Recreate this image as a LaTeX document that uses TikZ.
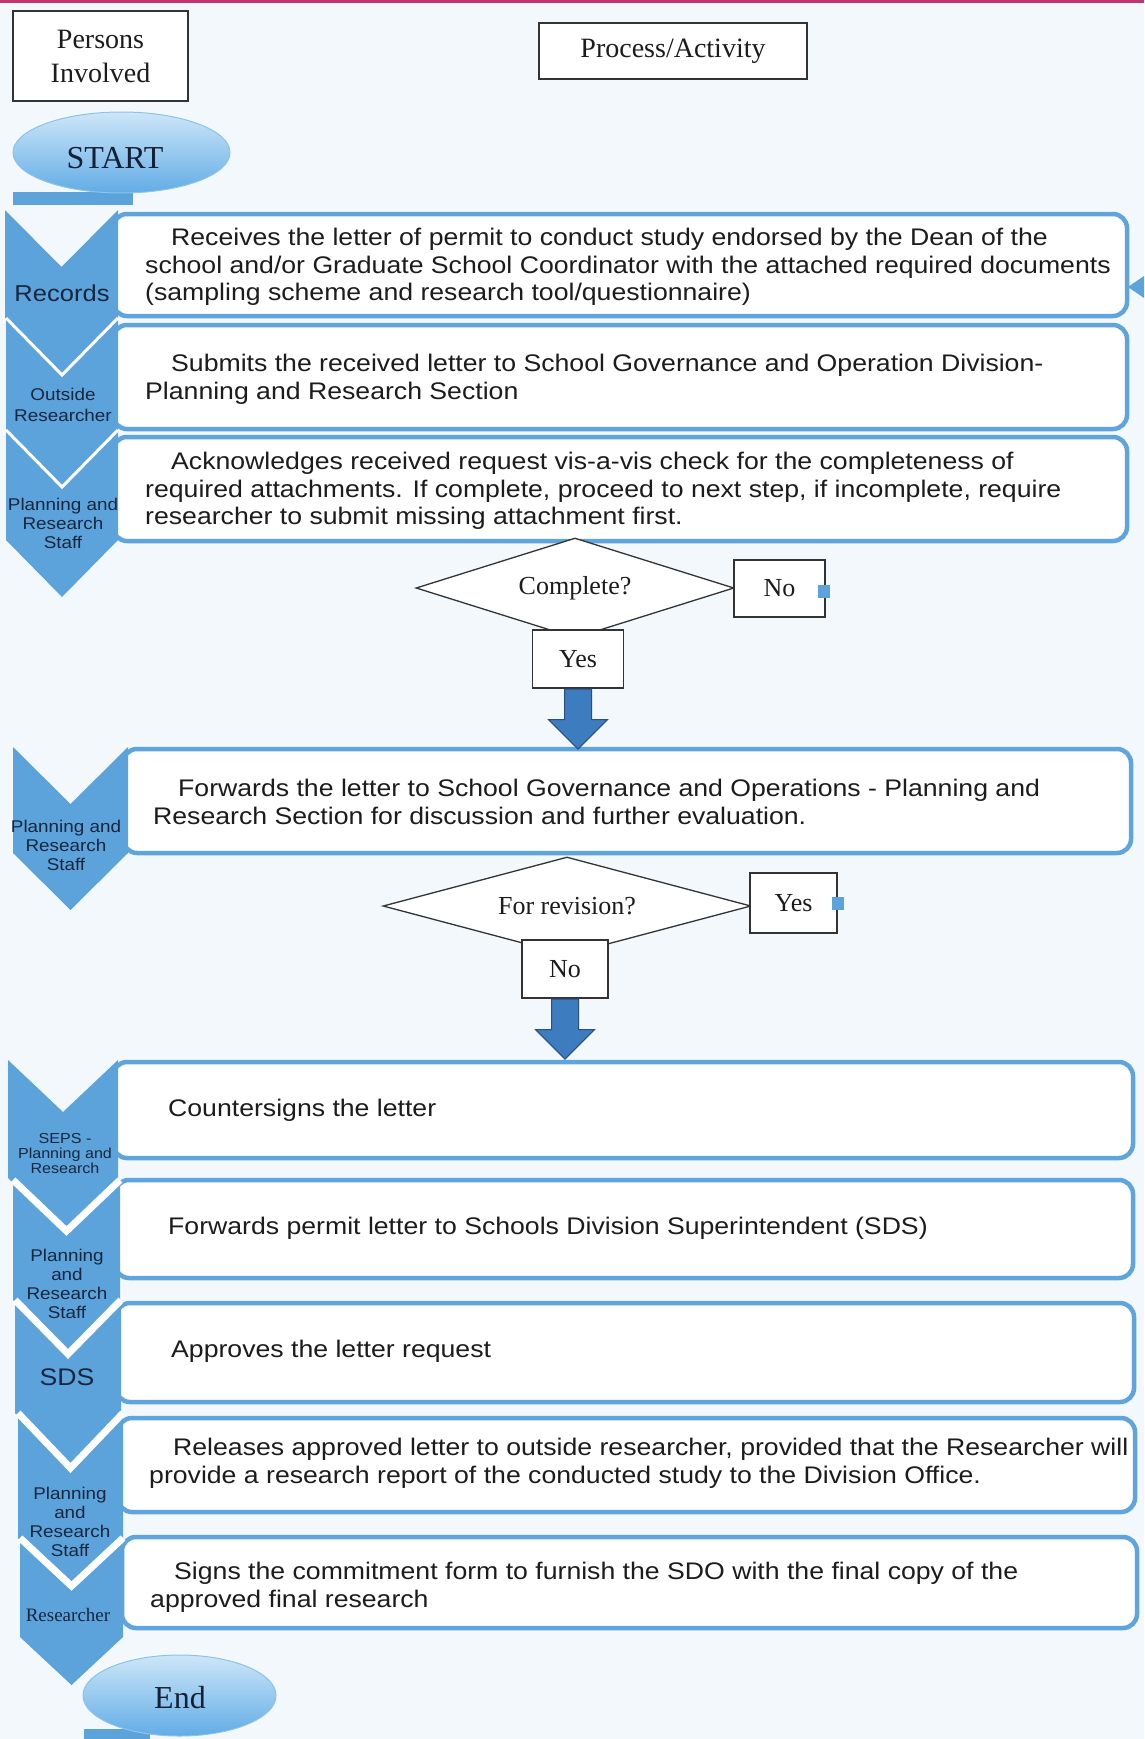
\documentclass[tikz,border=0pt]{standalone}
\usepackage{fontspec}
\setmainfont{Liberation Serif}
\newfontfamily\sansx[FakeStretch=1.11]{Liberation Sans}
\usetikzlibrary{shapes.geometric,shapes.arrows}
\definecolor{bg}{RGB}{243,248,252}
\definecolor{chev}{RGB}{92,163,220}
\definecolor{boxline}{RGB}{96,164,222}
\definecolor{pinkbar}{RGB}{196,52,112}
\definecolor{navy}{RGB}{24,38,62}
\definecolor{txt}{RGB}{28,28,28}
\definecolor{arrfill}{RGB}{62,124,192}
\definecolor{arrline}{RGB}{40,80,130}
\definecolor{termtop}{RGB}{205,230,248}
\definecolor{termbot}{RGB}{98,172,230}
\definecolor{termline}{RGB}{140,195,235}
\newcommand{\chevshape}[5]{%
  \fill[chev] (#1,#3) -- ({(#1+#2)/2},{#3+#5}) -- (#2,#3) -- (#2,#4) -- ({(#1+#2)/2},{#4+#5}) -- (#1,#4) -- cycle;}
\newcommand{\chevnotch}[6]{%
  \draw[white, line width=#6pt, line join=miter] (#1,#3) -- ({(#1+#2)/2},{#3+#5}) -- (#2,#3);}
\begin{document}
\begin{tikzpicture}[x=1pt,y=-1pt,
  procbox/.style={draw=boxline, line width=4.5pt, rounded corners=14pt, fill=white, anchor=north west, inner sep=0pt, outer sep=0pt},
  ptext/.style={font=\sansx\fontsize{24}{27.7}\selectfont, text=txt, align=left, anchor=west, inner sep=0pt},
  ctext/.style={text=navy, align=center, inner sep=0pt},
  hdrbox/.style={draw=black!80, line width=1.3pt, fill=white, inner sep=0pt, font=\fontsize{28}{34}\selectfont, text=txt, align=center},
  decision/.style={diamond, aspect=3.2, draw=black!80, line width=1.3pt, fill=white, inner sep=0pt, font=\fontsize{26}{30}\selectfont, text=txt},
  ansbox/.style={draw=black!80, line width=1.3pt, fill=white, inner sep=0pt, font=\fontsize{26}{30}\selectfont, text=txt},
  marker/.style={fill=chev, minimum width=12pt, minimum height=13pt, inner sep=0pt},
  blockarrow/.style={single arrow, shape border rotate=270, fill=arrfill, draw=arrline, line width=1pt, inner sep=13pt, single arrow head extend=16pt, minimum height=60pt, anchor=tail},
  termin/.style={ellipse, draw=termline, line width=1pt, top color=termtop, bottom color=termbot, inner sep=0pt},
  termtext/.style={font=\fontsize{32}{36}\selectfont, text=navy!85!black, inner sep=0pt}
]
\useasboundingbox (0,0) rectangle (1144,1739);
\fill[bg] (0,0) rectangle (1144,1739);
\fill[pinkbar] (0,0) rectangle (1144,3.5);

% header boxes
\node[hdrbox, minimum width=175, minimum height=90] (persons) at (100.5,56) {Persons\\Involved};
\node[hdrbox, minimum width=268, minimum height=56] (process) at (673,51) {Process/Activity};

% start terminal
\fill[chev] (13,192) rectangle (133,205);
\node[termin, minimum width=217, minimum height=81] (start) at (121.5,152.5) {};
\node[termtext] (starttext) at (115,158) {START};

% process boxes
\node[procbox, minimum width=1014, minimum height=102] (b1) at (113,214) {};
\node[procbox, minimum width=1014, minimum height=104] (b2) at (113,325) {};
\node[procbox, minimum width=1014, minimum height=104] (b3) at (113,437) {};
\node[procbox, minimum width=1008, minimum height=104] (b4) at (123,749) {};
\node[procbox, minimum width=1020, minimum height=96] (b5) at (113,1062) {};
\node[procbox, minimum width=1018, minimum height=98] (b6) at (115,1180) {};
\node[procbox, minimum width=1018, minimum height=99] (b7) at (116,1303) {};
\node[procbox, minimum width=1017, minimum height=94] (b8) at (118,1418) {};
\node[procbox, minimum width=1015, minimum height=91] (b9) at (122,1537) {};

% right edge pointer
\fill[chev] (1128,287) -- (1144,276) -- (1144,298) -- cycle;

% chevrons
\chevshape{5}{118}{210}{318}{57}
\chevshape{6}{118}{318}{430}{57}
\chevnotch{6}{118}{318}{430}{57}{3}
\chevshape{6}{118}{430}{540}{57}
\chevnotch{6}{118}{430}{540}{57}{3}
\chevshape{13}{128}{747}{853}{57}
\chevshape{8}{118}{1060}{1178}{52}
\chevshape{13}{120}{1180}{1300}{51}
\chevnotch{13}{120}{1180}{1300}{51}{7}
\chevshape{15}{121}{1300}{1413}{54}
\chevnotch{15}{121}{1300}{1413}{54}{7}
\chevshape{18}{123}{1413}{1538}{55}
\chevnotch{18}{123}{1413}{1538}{55}{7}
\chevshape{20}{123}{1538}{1637}{48}
\chevnotch{20}{123}{1538}{1637}{48}{7}

% chevron labels
\node[ctext, font=\sansx\fontsize{23}{26}\selectfont] (c1) at (62,293) {Records};
\node[ctext, font=\sansx\fontsize{17}{21}\selectfont] (c2) at (63,404.5) {Outside\\Researcher};
\node[ctext, font=\sansx\fontsize{17}{19}\selectfont] (c3) at (63,523) {Planning and\\Research\\Staff};
\node[ctext, font=\sansx\fontsize{17}{19}\selectfont] (c4) at (66,845) {Planning and\\Research\\Staff};
\node[ctext, font=\sansx\fontsize{14.5}{15}\selectfont] (c5) at (65,1153) {SEPS -\\Planning and\\Research};
\node[ctext, font=\sansx\fontsize{17}{19}\selectfont] (c6) at (67,1284) {Planning\\and\\Research\\Staff};
\node[ctext, font=\sansx\fontsize{24}{28}\selectfont] (c7) at (67,1377) {SDS};
\node[ctext, font=\sansx\fontsize{17}{19}\selectfont] (c8) at (70,1522) {Planning\\and\\Research\\Staff};
\node[ctext, font=\fontsize{19}{22}\selectfont] (c9) at (68,1615) {Researcher};

% process texts
\node[ptext] (t1) at (145,267) {\hspace*{26pt}Receives the letter of permit to conduct study endorsed by the Dean of the\\school and/or Graduate School Coordinator with the attached required documents\\(sampling scheme and research tool/questionnaire)};
\node[ptext] (t2) at (145,379.5) {\hspace*{26pt}Submits the received letter to School Governance and Operation Division-\\Planning and Research Section};
\node[ptext] (t3) at (145,491) {\hspace*{26pt}Acknowledges received request vis-a-vis check for the completeness of\\required attachments. If complete, proceed to next step, if incomplete, require\\researcher to submit missing attachment first.};
\node[ptext] (t4) at (153,802) {\hspace*{25pt}Forwards the letter to School Governance and Operations - Planning and\\Research Section for discussion and further evaluation.};
\node[ptext] (t5) at (168,1110) {Countersigns the letter};
\node[ptext] (t6) at (168,1228) {Forwards permit letter to Schools Division Superintendent (SDS)};
\node[ptext] (t7) at (171,1351) {Approves the letter request};
\node[ptext] (t8) at (149,1463.5) {\hspace*{24pt}Releases approved letter to outside researcher, provided that the Researcher will\\provide a research report of the conducted study to the Division Office.};
\node[ptext] (t9) at (150,1587.5) {\hspace*{24pt}Signs the commitment form to furnish the SDO with the final copy of the\\approved final research};

% decision 1
\node[decision, minimum width=318, minimum height=100] (d1) at (575,588) {\raisebox{-4pt}{Complete?}};
\node[ansbox, minimum width=91, minimum height=57] (no1) at (779.5,588.5) {No};
\node[ansbox, minimum width=91, minimum height=58] (yes1) at (578,659) {Yes};
\node[marker] (m1) at (824,591) {};
\node[blockarrow] (a1) at (yes1.south) {};

% decision 2
\node[decision, minimum width=368, minimum height=98] (d2) at (567,906) {\raisebox{-3pt}{For revision?}};
\node[ansbox, minimum width=87, minimum height=60] (yes2) at (793.5,903) {Yes};
\node[ansbox, minimum width=86, minimum height=58] (no2) at (565,969) {No};
\node[marker] (m2) at (838,903) {};
\node[blockarrow] (a2) at (no2.south) {};

% end terminal
\fill[chev] (84,1729) rectangle (150,1739);
\node[termin, minimum width=193, minimum height=81] (end) at (179.5,1695.5) {};
\node[termtext] (endtext) at (180,1698) {End};
\end{tikzpicture}
\end{document}
